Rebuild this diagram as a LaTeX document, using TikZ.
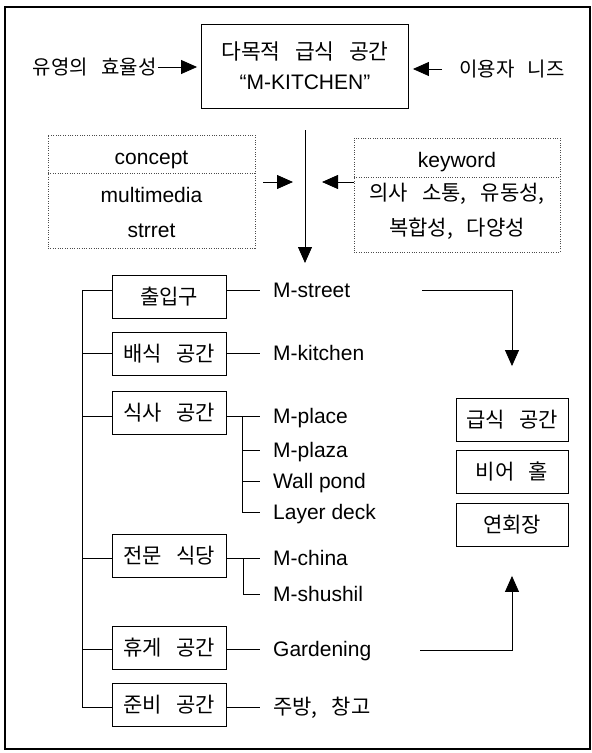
\documentclass[tikz,border=0pt]{standalone}
\usepackage{fontspec}
\setmainfont{Liberation Sans}
\newfontfamily\kr{Noto Sans CJK KR}[WordSpace=3]
\usetikzlibrary{arrows.meta}
\begin{document}
\begin{tikzpicture}[x=1pt,y=-1pt,
  ln/.style={line width=0.8pt},
  arr/.style={line width=0.8pt,-{Triangle[length=16pt,width=14pt]}},
  boxn/.style={draw,line width=0.9pt,minimum width=114pt,minimum height=43pt,inner sep=0pt,
    text height=15pt,text depth=0pt,font=\kr\fontsize{21}{24}\selectfont},
  rboxn/.style={boxn,minimum width=112pt},
  lbl/.style={inner sep=0pt,text height=15pt,text depth=0pt,anchor=west,font=\fontsize{21}{25}\selectfont},
  klbl/.style={lbl,font=\kr\fontsize{21}{24}\selectfont},
  dotbox/.style={draw=black!70,line width=0.8pt,dash pattern=on 1pt off 1.4pt,inner sep=0pt},
  dotline/.style={draw=black!70,line width=0.8pt,dash pattern=on 1pt off 1.4pt}
]
\useasboundingbox (0,0) rectangle (592,753);
\fill[white] (0,0) rectangle (592,753);
\draw[line width=1.3pt] (5,7) rectangle (590,749);

% top
\node[draw,line width=0.9pt,minimum width=207pt,minimum height=84pt,inner sep=0pt,align=center,
  font=\fontsize{21}{30}\selectfont] (top) at (305,66)
  {{\kr\fontsize{21.5}{30}\selectfont 다목적 급식 공간}\\“M-KITCHEN"};
\node[klbl,anchor=east,font=\kr\fontsize{20}{24}\selectfont] (eff) at (157,67) {유영의 효율성};
\node[klbl,anchor=west,font=\kr\fontsize{20}{24}\selectfont] (need) at (459,69) {이용자 니즈};
\draw[arr,shorten <=1pt,shorten >=4pt] (eff.east) -- (eff.east -| top.west);
\draw[arr,shorten <=17pt,shorten >=4pt] (need.west) -- (need.west -| top.east);

\coordinate (vend) at (305,263);
\draw[arr,shorten <=22pt] (top.south) -- (vend);

% concept box
\node[dotbox,minimum width=207pt,minimum height=113pt] (cbox) at (151.5,191.5) {};
\coordinate (cdiv) at (48,173);
\draw[dotline] (cdiv) -- (cdiv -| cbox.east);
\node[lbl,anchor=center] (c1) at (151.5,157) {concept};
\node[lbl,anchor=center] (c2) at (151.5,195) {multimedia};
\node[lbl,anchor=center] (c3) at (151.5,230) {strret};

% keyword box
\node[dotbox,minimum width=206pt,minimum height=114pt] (kbox) at (457,195) {};
\coordinate (kdiv) at (354,177);
\draw[dotline] (kdiv) -- (kdiv -| kbox.east);
\node[lbl,anchor=center] (k1) at (457,160) {keyword};
\node[klbl,anchor=center] (k2) at (457,193) {의사 소통, 유동성,};
\node[klbl,anchor=center] (k3) at (457,228) {복합성, 다양성};

\coordinate (mid) at (305,182);
\draw[arr,shorten <=8pt,shorten >=12pt] (mid -| cbox.east) -- (mid);
\draw[arr,shorten >=17pt] (mid -| kbox.west) -- (mid);

% tree boxes
\node[boxn] (b1) at (169,297) {출입구};
\node[boxn] (b2) at (169,354) {배식 공간};
\node[boxn] (b3) at (169,413) {식사 공간};
\node[boxn] (b4) at (169,556) {전문 식당};
\node[boxn] (b5) at (169,648) {휴게 공간};
\node[boxn] (b6) at (169,705) {준비 공간};

% labels
\node[lbl] (t1) at (273,290) {M-street};
\node[lbl] (t2) at (273,353) {M-kitchen};
\node[lbl] (t3) at (273,416) {M-place};
\node[lbl] (t4) at (273,450) {M-plaza};
\node[lbl] (t5) at (273,481) {Wall pond};
\node[lbl] (t6) at (273,512) {Layer deck};
\node[lbl] (t7) at (273,558) {M-china};
\node[lbl] (t8) at (273,594) {M-shushil};
\node[lbl] (t9) at (273,649) {Gardening};
\node[klbl] (t10) at (273,707) {주방, 창고};

% bus
\coordinate (bus1) at (82,290);
\coordinate (bus6) at (82,707);
\draw[ln] (b1.west |- bus1) -- (bus1) -- (bus6) -- (b6.west |- bus6);
\draw[ln] (b2.west |- t2) -- (t2 -| bus1);
\draw[ln] (b3.west |- t3) -- (t3 -| bus1);
\draw[ln] (b4.west |- t7) -- (t7 -| bus1);
\draw[ln] (b5.west |- t9) -- (t9 -| bus1);

% box to labels
\draw[ln,shorten >=13pt] (b1.east |- t1) -- (t1.west);
\draw[ln,shorten >=13pt] (b2.east |- t2) -- (t2.west);
\draw[ln,shorten >=13pt] (b3.east |- t3) -- (t3.west);
\draw[ln,shorten >=13pt] (b4.east |- t7) -- (t7.west);
\draw[ln,shorten >=13pt] (b5.east |- t9) -- (t9.west);
\draw[ln,shorten >=13pt] (b6.east |- t10) -- (t10.west);

\coordinate (s3) at (242,416);
\draw[ln] (s3) -- (s3 |- t6);
\draw[ln,shorten >=13pt] (s3 |- t4) -- (t4.west);
\draw[ln,shorten >=13pt] (s3 |- t5) -- (t5.west);
\draw[ln,shorten >=13pt] (s3 |- t6) -- (t6.west);
\coordinate (s4) at (243,558);
\draw[ln] (s4) -- (s4 |- t8);
\draw[ln,shorten >=13pt] (s4 |- t8) -- (t8.west);

% right boxes
\node[rboxn] (g1) at (512,420) {급식 공간};
\node[rboxn] (g2) at (512,472) {비어 홀};
\node[rboxn] (g3) at (512,525) {연회장};

\coordinate (r1) at (422,290);
\draw[arr,shorten >=32pt] (r1) -| (g1.north);
\coordinate (r2) at (420,650);
\draw[arr,shorten >=29pt] (r2) -| (g3.south);
\end{tikzpicture}
\end{document}
